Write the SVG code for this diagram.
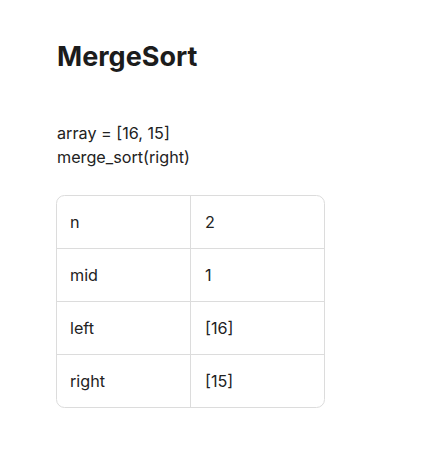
<svg xmlns="http://www.w3.org/2000/svg" width="421" height="472" viewBox="0 0 421 472">
<style>
.t{font-family:Inter,"Noto Sans","Liberation Sans",sans-serif;fill:#222222}
.h{font-size:27px;font-weight:700;fill:#1c1c1c}
.b{font-size:16.2px}
.line{stroke:#dcdcdc;stroke-width:1;fill:none}
</style>
<rect width="421" height="472" fill="#ffffff"/>
<g id="title"><text class="t h" x="57" y="66">MergeSort</text></g>
<g id="code">
<text class="t b" x="57" y="139">array = [16, 15]</text>
<text class="t b" x="57" y="163">merge_sort(right)</text>
</g>
<g id="table">
<rect class="line" x="56.5" y="195.5" width="268" height="212" rx="8"/>
<path class="line" d="M190.5 195.5V407.5M56.5 248.5H324.5M56.5 301.5H324.5M56.5 354.5H324.5"/>
<g id="row-n"><text class="t b" x="70" y="228">n</text><text class="t b" x="205" y="228">2</text></g>
<g id="row-mid"><text class="t b" x="70" y="281">mid</text><text class="t b" x="205" y="281">1</text></g>
<g id="row-left"><text class="t b" x="70" y="334">left</text><text class="t b" x="205" y="334">[16]</text></g>
<g id="row-right"><text class="t b" x="70" y="387">right</text><text class="t b" x="205" y="387">[15]</text></g>
</g>
</svg>
